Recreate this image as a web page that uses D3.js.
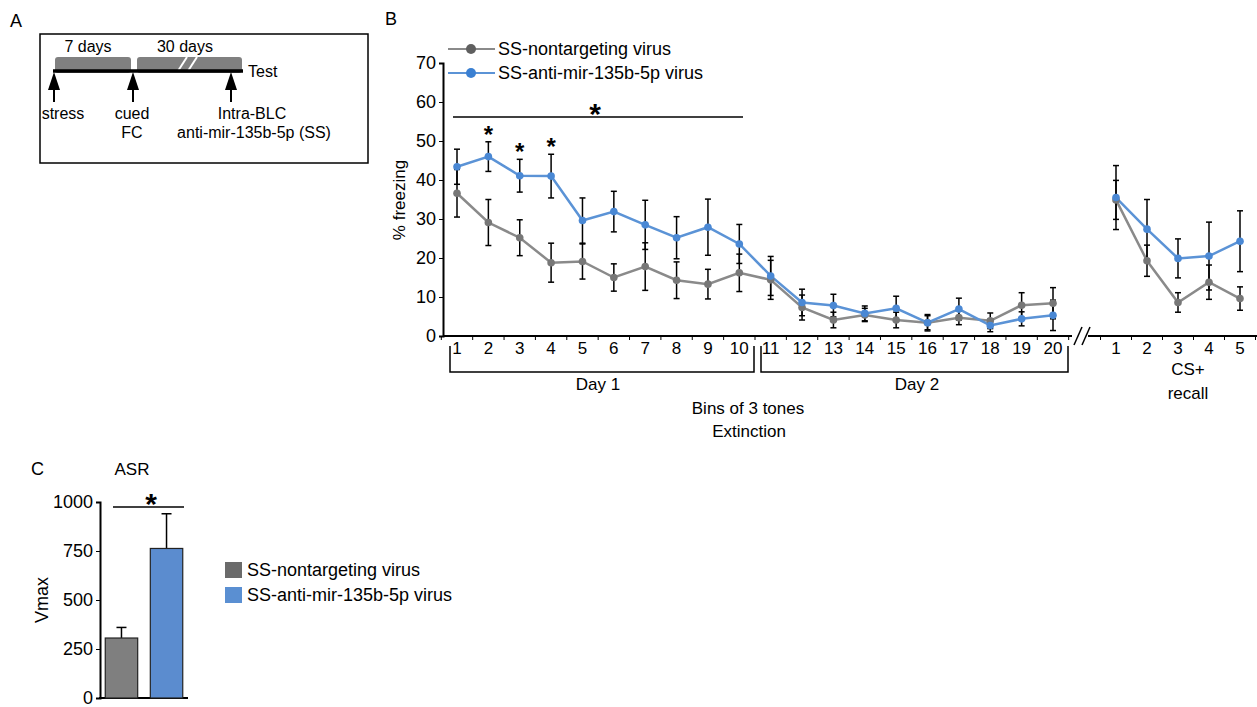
<!DOCTYPE html>
<html>
<head>
<meta charset="utf-8">
<script src="https://cdn.jsdelivr.net/npm/d3@7"></script>
<style>
  body { margin: 0; background: #ffffff; }
  text { font-family: Arial, "Liberation Sans", sans-serif; fill: #000; }
</style>
</head>
<body>
<div id="figure"></div>
<script>
// data

// panel B: extinction bins (3 tones each), day 1 = 1..10, day 2 = 11..20
var bins = d3.range(1, 21);
var ntMean   = [36.6, 29.1, 25.2, 18.8, 19.1, 15.0, 17.8, 14.3, 13.3, 16.2, 14.4, 7.3, 4.1, 5.4, 4.1, 3.4, 4.7, 3.9, 7.9, 8.4];
var ntSem    = [6.1, 5.9, 4.6, 5.0, 4.5, 3.5, 6.1, 4.7, 3.8, 4.8, 5.0, 3.2, 2.0, 1.7, 2.0, 1.8, 1.8, 2.0, 3.2, 4.0];
var antiMean = [43.4, 46.0, 41.1, 41.0, 29.6, 31.9, 28.5, 25.2, 27.9, 23.6, 15.4, 8.6, 7.8, 5.8, 7.1, 3.4, 6.9, 2.7, 4.4, 5.3];
var antiSem  = [4.5, 3.8, 4.2, 5.6, 5.8, 5.2, 6.3, 5.4, 7.2, 5.0, 5.0, 3.4, 2.9, 1.9, 3.1, 2.1, 2.8, 1.6, 1.8, 3.9];

// panel B: CS+ recall
var recallBins = [1, 2, 3, 4, 5];
var ntRecall       = [34.9, 19.3, 8.6, 13.8, 9.6];
var ntRecallSem    = [5.0, 4.0, 2.5, 4.4, 3.0];
var antiRecall     = [35.5, 27.4, 19.9, 20.5, 24.3];
var antiRecallSem  = [8.2, 7.6, 5.0, 8.7, 7.8];

var freezeTicks = [0, 10, 20, 30, 40, 50, 60, 70];
var starBins = [2, 3, 4];

// panel C: ASR
var groups = ["SS-nontargeting virus", "SS-anti-mir-135b-5p virus"];
var asrMean = [306, 763];
var asrSem  = [54, 177];
var asrTicks = [0, 250, 500, 750, 1000];

// colours
var grayLine = "#8a8a8a", grayDot = "#777777";
var blueLine = "#5b93d6", blueDot = "#4a88d4";
var barColors = ["#7f7f7f", "#5b8ccf"];
var legendSq = ["#6b6b6b", "#5a8fd2"];

var svg = d3.select("#figure").append("svg")
            .attr("width", 1257)
            .attr("height", 707);

gen_panel_a();
gen_panel_b();
gen_panel_c();

/**************************
 * panel A: timeline
 *************************/
function gen_panel_a() {
    var g = svg.append("g");

    g.append("text").attr("x", 10).attr("y", 27).style("font-size", "18px").text("A");

    g.append("rect")
     .attr("x", 40).attr("y", 34).attr("width", 328).attr("height", 129)
     .attr("fill", "none").attr("stroke", "#000").attr("stroke-width", 1.5);

    // gray periods
    g.append("rect").attr("x", 55).attr("y", 57).attr("width", 76).attr("height", 16)
     .attr("rx", 3).attr("fill", "#808080");
    g.append("rect").attr("x", 137).attr("y", 57).attr("width", 105).attr("height", 16)
     .attr("rx", 3).attr("fill", "#808080");
    // break marks
    [178, 188].forEach(function(x) {
        g.append("line").attr("x1", x).attr("y1", 71).attr("x2", x + 9).attr("y2", 57)
         .attr("stroke", "#fff").attr("stroke-width", 2);
    });

    // timeline
    g.append("line").attr("x1", 53).attr("x2", 243).attr("y1", 71).attr("y2", 71)
     .attr("stroke", "#000").attr("stroke-width", 3.5);

    g.append("text").attr("x", 88).attr("y", 52).attr("text-anchor", "middle").style("font-size", "16px").text("7 days");
    g.append("text").attr("x", 185).attr("y", 52).attr("text-anchor", "middle").style("font-size", "16px").text("30 days");
    g.append("text").attr("x", 248).attr("y", 77).style("font-size", "16px").text("Test");

    // arrows
    [54, 133, 231].forEach(function(x) {
        g.append("path")
         .attr("d", "M" + x + ",72 L" + (x - 6) + ",90 L" + (x + 6) + ",90 Z")
         .attr("fill", "#000");
        g.append("line").attr("x1", x).attr("x2", x).attr("y1", 88).attr("y2", 102)
         .attr("stroke", "#000").attr("stroke-width", 2);
    });

    var labels = [
        { x: 63, y: 119, t: "stress" },
        { x: 132, y: 119, t: "cued" },
        { x: 132, y: 138, t: "FC" },
        { x: 252, y: 119, t: "Intra-BLC" },
        { x: 254, y: 138, t: "anti-mir-135b-5p (SS)" }
    ];
    g.selectAll(".lab").data(labels).enter().append("text")
     .attr("x", function(d) { return d.x; })
     .attr("y", function(d) { return d.y; })
     .attr("text-anchor", "middle")
     .style("font-size", "16px")
     .text(function(d) { return d.t; });
}

/**************************
 * panel B: freezing curves
 *************************/
function gen_panel_b() {
    var g = svg.append("g");

    g.append("text").attr("x", 385).attr("y", 25).style("font-size", "18px").text("B");

    var y = d3.scaleLinear().domain([0, 70]).range([336, 63]);
    var x = d3.scaleLinear().domain([1, 20]).range([457, 1053]);
    var xr = d3.scaleLinear().domain([1, 5]).range([1116, 1240]);

    // y axis
    var yAxis = d3.axisLeft(y).tickValues(freezeTicks).tickSize(4).tickPadding(3);
    var ya = g.append("g").attr("transform", "translate(443,0)").call(yAxis);
    ya.select(".domain").attr("stroke-width", 2);
    ya.selectAll("text").style("font-size", "18px").style("font-family", "Arial, 'Liberation Sans', sans-serif");

    g.append("text")
     .attr("transform", "translate(405,200) rotate(-90)")
     .attr("text-anchor", "middle")
     .style("font-size", "17px")
     .text("% freezing");

    // x axis (extinction)
    g.append("line").attr("x1", 443).attr("x2", 1072).attr("y1", 336).attr("y2", 336)
     .attr("stroke", "#000").attr("stroke-width", 2);
    g.selectAll(".xt").data(d3.range(0.5, 21, 1)).enter().append("line")
     .attr("x1", function(d) { return x(d); }).attr("x2", function(d) { return x(d); })
     .attr("y1", 336).attr("y2", 340).attr("stroke", "#000").attr("stroke-width", 1);
    g.selectAll(".xl").data(bins).enter().append("text")
     .attr("x", function(d) { return x(d); }).attr("y", 354)
     .attr("text-anchor", "middle").style("font-size", "17px")
     .text(function(d) { return d; });

    // x axis (recall)
    g.append("line").attr("x1", 1088).attr("x2", 1257).attr("y1", 336).attr("y2", 336)
     .attr("stroke", "#000").attr("stroke-width", 2);
    g.selectAll(".xrt").data(d3.range(0.5, 6, 1)).enter().append("line")
     .attr("x1", function(d) { return xr(d); }).attr("x2", function(d) { return xr(d); })
     .attr("y1", 336).attr("y2", 340).attr("stroke", "#000").attr("stroke-width", 1);
    g.selectAll(".xrl").data(recallBins).enter().append("text")
     .attr("x", function(d) { return xr(d); }).attr("y", 354)
     .attr("text-anchor", "middle").style("font-size", "17px")
     .text(function(d) { return d; });

    // axis break
    [1074, 1082].forEach(function(bx) {
        g.append("line").attr("x1", bx).attr("y1", 345).attr("x2", bx + 8).attr("y2", 327)
         .attr("stroke", "#000").attr("stroke-width", 1.5);
    });

    // brackets
    var brackets = [
        { x1: 450, x2: 754, top: 346, label: "Day 1", lx: 598 },
        { x1: 761, x2: 1068, top: 346, label: "Day 2", lx: 917 }
    ];
    brackets.forEach(function(b) {
        g.append("path")
         .attr("d", "M" + b.x1 + "," + b.top + " V372 H" + b.x2 + " V" + b.top)
         .attr("fill", "none").attr("stroke", "#000").attr("stroke-width", 1.5);
        g.append("text").attr("x", b.lx).attr("y", 390).attr("text-anchor", "middle")
         .style("font-size", "17px").text(b.label);
    });
    g.append("text").attr("x", 748).attr("y", 414).attr("text-anchor", "middle").style("font-size", "17px").text("Bins of 3 tones");
    g.append("text").attr("x", 749).attr("y", 437).attr("text-anchor", "middle").style("font-size", "17px").text("Extinction");
    g.append("text").attr("x", 1188).attr("y", 375).attr("text-anchor", "middle").style("font-size", "17px").text("CS+");
    g.append("text").attr("x", 1188).attr("y", 399).attr("text-anchor", "middle").style("font-size", "17px").text("recall");

    // series
    var series = [
        { xs: bins, mean: ntMean, sem: ntSem, sx: x, line: grayLine, dot: grayDot },
        { xs: bins, mean: antiMean, sem: antiSem, sx: x, line: blueLine, dot: blueDot },
        { xs: recallBins, mean: ntRecall, sem: ntRecallSem, sx: xr, line: grayLine, dot: grayDot },
        { xs: recallBins, mean: antiRecall, sem: antiRecallSem, sx: xr, line: blueLine, dot: blueDot }
    ];

    series.forEach(function(s) {
        var pts = s.xs.map(function(b, i) { return [b, s.mean[i], s.sem[i]]; });
        var line = d3.line()
                     .x(function(d) { return s.sx(d[0]); })
                     .y(function(d) { return y(d[1]); });
        g.append("path").datum(pts).attr("d", line)
         .attr("fill", "none").attr("stroke", s.line).attr("stroke-width", 2.5);
    });

    series.forEach(function(s) {
        var pts = s.xs.map(function(b, i) { return [b, s.mean[i], s.sem[i]]; });
        var eb = g.append("g").attr("stroke", "#000").attr("stroke-width", 1.5);
        pts.forEach(function(d) {
            var cx = s.sx(d[0]);
            eb.append("line").attr("x1", cx).attr("x2", cx)
              .attr("y1", y(d[1] + d[2])).attr("y2", y(d[1] - d[2]));
            [d[1] + d[2], d[1] - d[2]].forEach(function(v) {
                eb.append("line").attr("x1", cx - 3).attr("x2", cx + 3)
                  .attr("y1", y(v)).attr("y2", y(v));
            });
        });
    });

    series.forEach(function(s) {
        g.selectAll(null).data(s.xs.map(function(b, i) { return [b, s.mean[i]]; }))
         .enter().append("circle")
         .attr("cx", function(d) { return s.sx(d[0]); })
         .attr("cy", function(d) { return y(d[1]); })
         .attr("r", 3.8)
         .attr("fill", s.dot);
    });

    // significance
    g.append("line").attr("x1", 453).attr("x2", 743).attr("y1", 117).attr("y2", 117)
     .attr("stroke", "#000").attr("stroke-width", 1.5);
    g.append("text").attr("x", 595).attr("y", 124).attr("text-anchor", "middle")
     .style("font-size", "30px").style("font-weight", "bold").text("*");
    g.selectAll(".st").data(starBins).enter().append("text")
     .attr("x", function(d) { return x(d); })
     .attr("y", function(d) { return y(antiMean[d - 1] + antiSem[d - 1]) + 1; })
     .attr("text-anchor", "middle")
     .style("font-size", "24px").style("font-weight", "bold")
     .text("*");

    // legend
    var leg = [
        { y: 49, t: groups[0], line: grayLine, dot: "#5f5f5f" },
        { y: 73, t: groups[1], line: blueLine, dot: "#3b80d2" }
    ];
    leg.forEach(function(l) {
        g.append("line").attr("x1", 448).attr("x2", 495).attr("y1", l.y).attr("y2", l.y)
         .attr("stroke", l.line).attr("stroke-width", 2);
        g.append("circle").attr("cx", 471).attr("cy", l.y).attr("r", 5).attr("fill", l.dot);
        g.append("text").attr("x", 498).attr("y", l.y + 6).style("font-size", "18px").text(l.t);
    });
}

/**************************
 * panel C: ASR bar chart
 *************************/
function gen_panel_c() {
    var g = svg.append("g");

    g.append("text").attr("x", 31).attr("y", 475).style("font-size", "18px").text("C");
    g.append("text").attr("x", 132).attr("y", 475).attr("text-anchor", "middle").style("font-size", "17px").text("ASR");

    var y = d3.scaleLinear().domain([0, 1000]).range([698, 502]);
    var x = d3.scaleBand().domain(groups).range([103, 185]).paddingInner(0.28).paddingOuter(0.05);

    var yAxis = d3.axisLeft(y).tickValues(asrTicks).tickFormat(d3.format("d")).tickSize(4).tickPadding(3);
    var ya = g.append("g").attr("transform", "translate(100,0)").call(yAxis);
    ya.select(".domain").attr("stroke-width", 2);
    ya.selectAll("text").style("font-size", "18px").style("font-family", "Arial, 'Liberation Sans', sans-serif");

    g.append("line").attr("x1", 99).attr("x2", 188).attr("y1", 698).attr("y2", 698)
     .attr("stroke", "#000").attr("stroke-width", 2);

    g.append("text")
     .attr("transform", "translate(48,600) rotate(-90)")
     .attr("text-anchor", "middle")
     .style("font-size", "18px")
     .text("Vmax");

    // error bars (upper only)
    groups.forEach(function(gr, i) {
        var cx = x(gr) + x.bandwidth() / 2;
        g.append("line").attr("x1", cx).attr("x2", cx)
         .attr("y1", y(asrMean[i])).attr("y2", y(asrMean[i] + asrSem[i]))
         .attr("stroke", "#000").attr("stroke-width", 1.5);
        g.append("line").attr("x1", cx - 5).attr("x2", cx + 5)
         .attr("y1", y(asrMean[i] + asrSem[i])).attr("y2", y(asrMean[i] + asrSem[i]))
         .attr("stroke", "#000").attr("stroke-width", 1.5);
    });

    g.selectAll(".bar").data(groups).enter().append("rect")
     .attr("x", function(d) { return x(d); })
     .attr("y", function(d, i) { return y(asrMean[i]); })
     .attr("width", x.bandwidth())
     .attr("height", function(d, i) { return 698 - y(asrMean[i]); })
     .attr("fill", function(d, i) { return barColors[i]; })
     .attr("stroke", "#222").attr("stroke-width", 1.2);

    // significance
    g.append("line").attr("x1", 113).attr("x2", 184).attr("y1", 507).attr("y2", 507)
     .attr("stroke", "#000").attr("stroke-width", 1.5);
    g.append("text").attr("x", 151).attr("y", 514).attr("text-anchor", "middle")
     .style("font-size", "30px").style("font-weight", "bold").text("*");

    // legend
    groups.forEach(function(gr, i) {
        var ly = 562 + i * 25;
        g.append("rect").attr("x", 225).attr("y", ly).attr("width", 17).attr("height", 16)
         .attr("fill", legendSq[i]);
        g.append("text").attr("x", 247).attr("y", ly + 14).style("font-size", "18px").text(gr);
    });
}
</script>
</body>
</html>
